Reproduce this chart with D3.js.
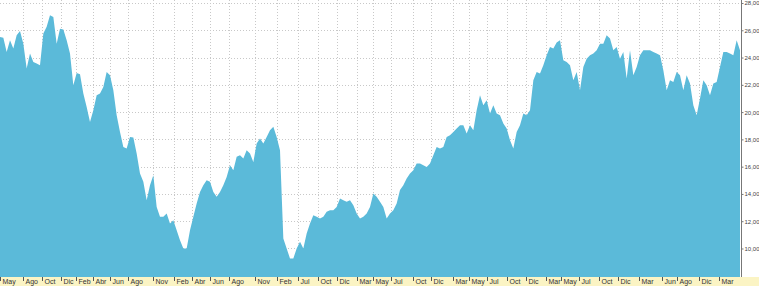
<!DOCTYPE html>
<html>
<head>
<meta charset="utf-8">
<script src="https://cdn.jsdelivr.net/npm/d3@7"></script>
<style>
  body { margin: 0; background: #fff; }
  svg { display: block; }
</style>
</head>
<body>
<div id="chart"></div>
<script>
const width = 759
const height = 286
const plotW = 741
const plotH = 277

// one price every 10 sessions, starting at session 0
const step = 10
const prices = [
  25.51, 25.46, 24.41, 25.27, 24.66, 25.63, 25.95, 25.02, 23.19, 24.29,
  23.68, 23.56, 23.44, 25.76, 26.25, 27.10, 26.98, 25.02, 26.12, 26.05,
  25.27, 24.29, 21.97, 22.87, 22.78, 21.36, 20.38, 19.28, 20.14, 21.24,
  21.36, 21.85, 22.95, 22.70, 21.60, 19.77, 18.55, 17.45, 17.33, 18.18,
  18.13, 16.96, 15.50, 14.89, 13.54, 14.64, 15.37, 13.05, 12.32, 12.32,
  12.57, 11.83, 12.08, 11.34, 10.61, 10.00, 10.00, 11.34, 12.32, 13.30,
  14.15, 14.64, 15.01, 14.89, 14.15, 13.79, 14.15, 14.64, 15.25, 16.11,
  15.74, 16.72, 16.84, 16.60, 17.21, 16.96, 16.35, 17.70, 18.06, 17.70,
  18.18, 18.67, 18.92, 18.18, 17.21, 10.73, 10.00, 9.27, 9.27, 10.00,
  10.49, 10.00, 11.10, 11.83, 12.44, 12.32, 12.20, 12.32, 12.69, 12.81,
  12.81, 13.05, 13.66, 13.54, 13.42, 13.54, 13.17, 12.57, 12.20, 12.32,
  12.57, 13.05, 14.03, 13.79, 13.42, 13.05, 12.20, 12.57, 12.81, 13.30,
  14.28, 14.64, 15.13, 15.50, 15.74, 16.23, 16.23, 16.11, 15.98, 16.23,
  16.84, 17.45, 17.33, 17.45, 18.18, 18.31, 18.55, 18.79, 19.04, 19.04,
  18.43, 19.04, 18.67, 20.14, 21.24, 20.50, 20.87, 19.89, 20.50, 19.89,
  19.77, 19.16, 18.79, 17.94, 17.33, 18.55, 19.04, 19.89, 19.77, 20.14,
  22.34, 22.95, 22.83, 23.44, 24.17, 24.78, 24.66, 25.10, 25.27, 23.80,
  23.68, 23.44, 22.34, 22.95, 21.60, 23.31, 23.92, 24.17, 24.29, 24.54,
  25.02, 25.02, 25.63, 25.39, 24.54, 24.78, 23.92, 24.41, 22.46, 24.54,
  22.70, 23.31, 24.17, 24.54, 24.54, 24.54, 24.41, 24.29, 24.17, 23.07,
  21.60, 22.34, 22.21, 22.95, 22.70, 21.60, 22.70, 22.09, 20.50, 19.77,
  20.99, 22.34, 21.97, 21.24, 22.09, 22.21, 23.31, 24.41, 24.41, 24.29,
  24.17, 25.27, 24.54
]

// month labels and the session where each one starts
const tickLabels = ["May", "Ago", "Oct", "Dic", "Feb", "Abr", "Jun", "Ago", "Nov", "Feb",
  "Abr", "Jun", "Ago", "Nov", "Feb", "Jul", "Oct", "Dic", "Mar", "May",
  "Jul", "Oct", "Dic", "Mar", "May", "Jul", "Oct", "Dic", "Mar", "May",
  "Jul", "Oct", "Dic", "Mar", "Jun", "Ago", "Dic", "Mar"]
const tickSessions = [0, 69, 126, 183, 228, 279, 330, 384, 459, 522,
  576, 630, 687, 765, 831, 894, 954, 1011, 1071, 1119,
  1173, 1239, 1293, 1359, 1407, 1461, 1521, 1578, 1638, 1683,
  1737, 1797, 1854, 1917, 1986, 2031, 2097, 2157]

const yTicks = [10, 12, 14, 16, 18, 20, 22, 24, 26, 28]

const data = prices.map((p, i) => ({ s: i * step, p }))

const x = d3.scaleLinear().domain([0, 2223]).range([0, plotW])
const y = d3.scaleLinear().domain([7.91, 28.22]).range([plotH, 0])

const svg = d3.select("#chart").append("svg")
    .attr("width", width)
    .attr("height", height)

// grid
const grid = svg.append("g")
    .attr("stroke", "#c8c8c8")
    .attr("stroke-dasharray", "1,2")
    .attr("shape-rendering", "crispEdges")

grid.selectAll(".hg")
    .data(yTicks)
    .join("line")
    .attr("x1", 0).attr("x2", plotW)
    .attr("y1", d => Math.round(y(d)) + 0.5)
    .attr("y2", d => Math.round(y(d)) + 0.5)

grid.selectAll(".vg")
    .data(tickSessions.slice(1))
    .join("line")
    .attr("y1", 0).attr("y2", plotH)
    .attr("x1", d => Math.round(x(d)) + 0.5)
    .attr("x2", d => Math.round(x(d)) + 0.5)

// price area
const area = d3.area()
    .x(d => x(d.s))
    .y0(plotH)
    .y1(d => y(d.p))

svg.append("path")
    .datum(data)
    .attr("fill", "#5bbad9")
    .attr("d", area)

// x axis band
svg.append("rect")
    .attr("x", 0).attr("y", plotH)
    .attr("width", width).attr("height", height - plotH)
    .attr("fill", "#fbf4c4")

const xAxis = svg.append("g")
    .attr("transform", `translate(0,${plotH})`)
    .call(d3.axisBottom(x)
        .tickValues(tickSessions)
        .tickSize(4)
        .tickFormat((d, i) => tickLabels[i]))

xAxis.select(".domain").remove()
xAxis.selectAll(".tick line").attr("stroke", "#555")
xAxis.selectAll(".tick text")
    .attr("text-anchor", "start")
    .attr("x", 2)
    .attr("y", 2)
    .attr("dy", "0.71em")
    .attr("fill", "#333")
    .style("font", "7px 'Liberation Sans', Arial, sans-serif")

// y axis on the right
const yAxis = svg.append("g")
    .attr("transform", `translate(${plotW + 0.5},0)`)
    .call(d3.axisRight(y)
        .tickValues(yTicks)
        .tickSize(2)
        .tickPadding(1)
        .tickFormat(d => d3.format(".2f")(d).replace(".", ",")))

yAxis.select(".domain").attr("stroke", "#777").attr("d", `M0,0V${plotH}`)
yAxis.selectAll(".tick line").attr("stroke", "#777")
yAxis.selectAll(".tick text")
    .attr("fill", "#444")
    .style("font", "6px 'Liberation Sans', Arial, sans-serif")
</script>
</body>
</html>
